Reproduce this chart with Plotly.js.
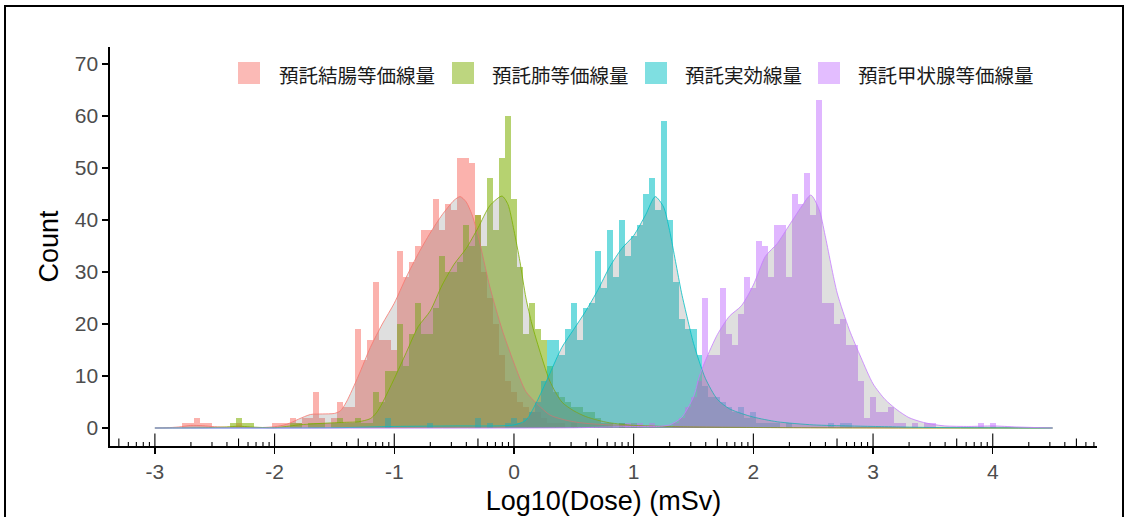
<!DOCTYPE html>
<html>
<head>
<meta charset="utf-8">
<script src="https://cdn.plot.ly/plotly-3.0.1.min.js"></script>
<style>
  html, body { margin: 0; padding: 0; background: #fff; }
  #wrap { position: relative; width: 1127px; height: 517px; overflow: hidden; }
  #chart { position: absolute; left: 0; top: 0; width: 1127px; height: 517px; }
  #frame { position: absolute; left: 4px; top: 5px; width: 1116px; height: 530px; border: 2px solid #000; pointer-events: none; }
</style>
</head>
<body>
<div id="wrap"><div id="chart"></div><div id="frame"></div></div>
<script>
// ---- series names ----
const seriesNames = ["預託結腸等価線量", "預託肺等価線量", "預託実効線量", "預託甲状腺等価線量"];
const seriesColors = ["248,118,109", "124,174,0", "0,191,196", "199,124,255"];
const binWidth = 0.05;

// ---- histogram counts (bins of width 0.05, first bin centre given) ----
const colonStart = -2.75;
const colonCounts = [1,1,2,1,1,0,0,0,0,1,0,0,0,0,0,1,1,1,2,1,2,2,7,2,1,2,5,4,4,19,13,17,28,17,17,15,34,29,32,35,38,38,44,38,43,42,52,52,51,41,30,25,20,14,9,7,5,4,3,3,2,1,1,1,0,1,0,0,0,0,0,0,0,1,0,1];

const lungStart = -2.35;
const lungCounts = [1,2,1,1,0,0,0,0,0,0,1,1,0,1,1,1,0,1,2,1,1,2,1,1,7,5,11,11,20,12,18,24,18,18,23,33,30,30,32,39,35,41,35,48,38,52,60,44,31,18,24,19,17,12,7,6,5,4,4,3,3,2,1,1,0,1];

const effStart = -1.05;
const effCounts = [2,0,0,0,0,0,0,1,0,0,0,0,0,0,0,2,0,1,0,0,1,2,1,2,3,5,9,17,17,14,19,24,17,23,24,34,27,38,29,40,33,37,39,45,48,42,59,40,28,21,19,19,14,8,6,6,5,4,3,4,2,3,1,1,1,1,0,1,0,0,0,0,0,0,1,0,1,1];

const thyStart = 0.95;
const thyCounts = [1,0,1,0,1,0,0,0,1,2,4,6,9,25,14,14,27,18,16,22,29,27,36,35,29,39,39,29,45,43,49,41,63,24,24,20,21,16,16,9,2,6,3,3,4,1,1,0,1,0,1,1,0,0,0,0,0,0,0,1,0,1];

// ---- density curves (scaled to counts) ----
const colonDensX = [-3,-2.9,-2.8,-2.7,-2.6,-2.5,-2.4,-2.3,-2.2,-2.1,-2.0,-1.9,-1.8,-1.7,-1.6,-1.5,-1.45,-1.4,-1.3,-1.2,-1.1,-1.0,-0.9,-0.8,-0.7,-0.6,-0.5,-0.45,-0.4,-0.35,-0.3,-0.2,-0.1,0.0,0.1,0.2,0.3,0.4,0.5,0.6,0.8,1.0,1.2,1.5,2.0,3.0,4.5];
const colonDensY = [0,0.05,0.2,0.5,0.45,0.25,0.15,0.2,0.1,0.1,0.25,0.7,1.7,2.6,2.7,2.8,3.3,5,10,15.5,20,24,29,33.5,37.5,41,43.8,44.5,43.5,41,37,27,19,12.5,7,4.5,2.5,1.7,1.2,0.9,0.6,0.5,0.3,0.2,0.1,0.02,0];

const lungDensX = [-3,-2.6,-2.4,-2.3,-2.2,-2.0,-1.9,-1.8,-1.6,-1.4,-1.3,-1.2,-1.15,-1.1,-1.0,-0.9,-0.8,-0.7,-0.6,-0.5,-0.4,-0.3,-0.2,-0.1,-0.05,0.0,0.05,0.1,0.15,0.2,0.3,0.4,0.5,0.6,0.7,0.8,1.0,1.5,2.0,3.0,4.5];
const lungDensY = [0,0.05,0.2,0.35,0.2,0.05,0.3,0.6,0.9,1.1,1.2,1.8,2.9,4.8,9.5,14.5,19.5,22.5,27.5,31.5,34.5,38.5,42.8,44.6,43,38,32,25,20,16,9,5,3.3,2.2,1.5,1.0,0.5,0.2,0.1,0.02,0];

const effDensX = [-3,-1.5,-1.0,-0.5,0.0,0.1,0.2,0.3,0.4,0.5,0.6,0.7,0.8,0.9,1.0,1.1,1.18,1.25,1.3,1.35,1.4,1.45,1.5,1.6,1.7,1.8,1.9,2.0,2.2,2.5,2.8,3.0,3.5,4.5];
const effDensY = [0,0.05,0.3,0.4,0.6,1.5,5.5,10.5,15.5,19,22.5,26.5,31,34.5,37,41,44.5,42.5,38,32,26,21,16.3,9.5,5.5,3.7,2.8,2.1,1.2,0.6,0.4,0.3,0.1,0];

const thyDensX = [-3,0.5,1.0,1.2,1.3,1.4,1.5,1.55,1.6,1.7,1.8,1.9,2.0,2.1,2.2,2.3,2.4,2.48,2.55,2.6,2.7,2.8,2.9,3.0,3.1,3.2,3.3,3.4,3.5,3.6,3.8,4.0,4.2,4.5];
const thyDensY = [0,0.05,0.3,0.3,0.6,2,6,10,13,18,21.5,23.5,27.5,33,35.5,39,42.5,44.8,42,37,26,19,13.5,8.5,5.5,3.5,2,1.2,0.7,0.4,0.3,0.4,0.2,0];

// ---- axis ticks ----
const xTickVals = [-3,-2,-1,0,1,2,3,4];
const yTickVals = [0,10,20,30,40,50,60,70];

const xRange = [-3.375, 4.871];
const yRange = [-3.46, 73.27];

function centres(start, n) {
  const out = [];
  for (let i = 0; i < n; i++) out.push(+(start + i * binWidth).toFixed(3));
  return out;
}

const hist = [
  [colonStart, colonCounts], [lungStart, lungCounts], [effStart, effCounts], [thyStart, thyCounts]
];
const dens = [
  [colonDensX, colonDensY], [lungDensX, lungDensY], [effDensX, effDensY], [thyDensX, thyDensY]
];

const traces = [];
hist.forEach((h, i) => {
  traces.push({
    type: 'bar', x: centres(h[0], h[1].length), y: h[1], width: binWidth,
    marker: { color: 'rgba(' + seriesColors[i] + ',0.56)', line: { width: 0 } },
    name: seriesNames[i], showlegend: false, hoverinfo: 'skip'
  });
});
dens.forEach((d, i) => {
  traces.push({
    type: 'scatter', mode: 'lines', x: d[0], y: d[1],
    line: { color: 'rgb(' + seriesColors[i] + ')', width: 0.8, shape: 'spline', smoothing: 0.7 },
    fill: 'tozeroy', fillcolor: 'rgba(128,128,128,0.25)',
    showlegend: false, hoverinfo: 'skip'
  });
});

// ---- layout geometry ----
const W = 1127, H = 517;
const mL = 110, mR = 30, mT = 47, mB = 71;
const pw = W - mL - mR, ph = H - mT - mB;
const px2paperX = p => (p - mL) / pw;
const py2paperY = p => (H - mB - p) / ph;

const shapes = [];
// log ticks (annotation_logticks style) along the bottom, inside
for (let k = -4; k <= 4; k++) {
  for (let m = 1; m <= 9; m++) {
    const v = k + Math.log10(m);
    if (v < xRange[0] || v > xRange[1]) continue;
    const len = (m === 1) ? 12.5 : (m === 5 ? 7.5 : 4);
    shapes.push({
      type: 'line', xref: 'x', yref: 'paper', ysizemode: 'pixel', yanchor: 0,
      x0: v, x1: v, y0: 0, y1: len, line: { color: '#000', width: 1.1 }, layer: 'above'
    });
  }
}

// manual legend
const legendSwatchLeft = [238, 452, 645, 818];
const legendTextLeft = [277, 490, 683, 856];
const legendY = 73;
const annotations = [];
seriesNames.forEach((nm, i) => {
  shapes.push({
    type: 'rect', xref: 'paper', yref: 'paper',
    x0: px2paperX(legendSwatchLeft[i]), x1: px2paperX(legendSwatchLeft[i] + 22),
    y0: py2paperY(legendY + 11), y1: py2paperY(legendY - 11),
    fillcolor: 'rgba(' + seriesColors[i] + ',0.5)', line: { width: 0 }
  });
  annotations.push({
    xref: 'paper', yref: 'paper', x: px2paperX(legendTextLeft[i]), y: py2paperY(legendY + 1),
    xanchor: 'left', yanchor: 'middle', showarrow: false, text: nm,
    font: { family: 'Noto Sans CJK JP, sans-serif', size: 19.5, color: '#1a1a1a' }
  });
});

const layout = {
  width: W, height: H,
  margin: { l: mL, r: mR, t: mT, b: mB, pad: 0 },
  paper_bgcolor: '#fff', plot_bgcolor: '#fff',
  barmode: 'overlay', bargap: 0,
  showlegend: false,
  font: { family: 'Liberation Sans, Arial, sans-serif' },
  xaxis: {
    range: xRange, tickvals: xTickVals, ticktext: xTickVals.map(String),
    ticks: 'outside', ticklen: 6, tickwidth: 1.3, tickcolor: '#000',
    showline: true, linecolor: '#000', linewidth: 1.6,
    showgrid: false, zeroline: false,
    tickfont: { size: 21, color: '#4D4D4D' },
    title: { text: 'Log10(Dose) (mSv)', font: { size: 27, color: '#000' }, standoff: 9 }
  },
  yaxis: {
    range: yRange, tickvals: yTickVals, ticktext: yTickVals.map(String),
    ticks: 'outside', ticklen: 6, tickwidth: 1.3, tickcolor: '#000',
    showline: true, linecolor: '#000', linewidth: 1.6,
    showgrid: false, zeroline: false,
    tickfont: { size: 21, color: '#4D4D4D' },
    title: { text: 'Count', font: { size: 27, color: '#000' }, standoff: 8 }
  },
  shapes: shapes,
  annotations: annotations
};

Plotly.newPlot('chart', traces, layout, { staticPlot: true, displayModeBar: false });
</script>
</body>
</html>
